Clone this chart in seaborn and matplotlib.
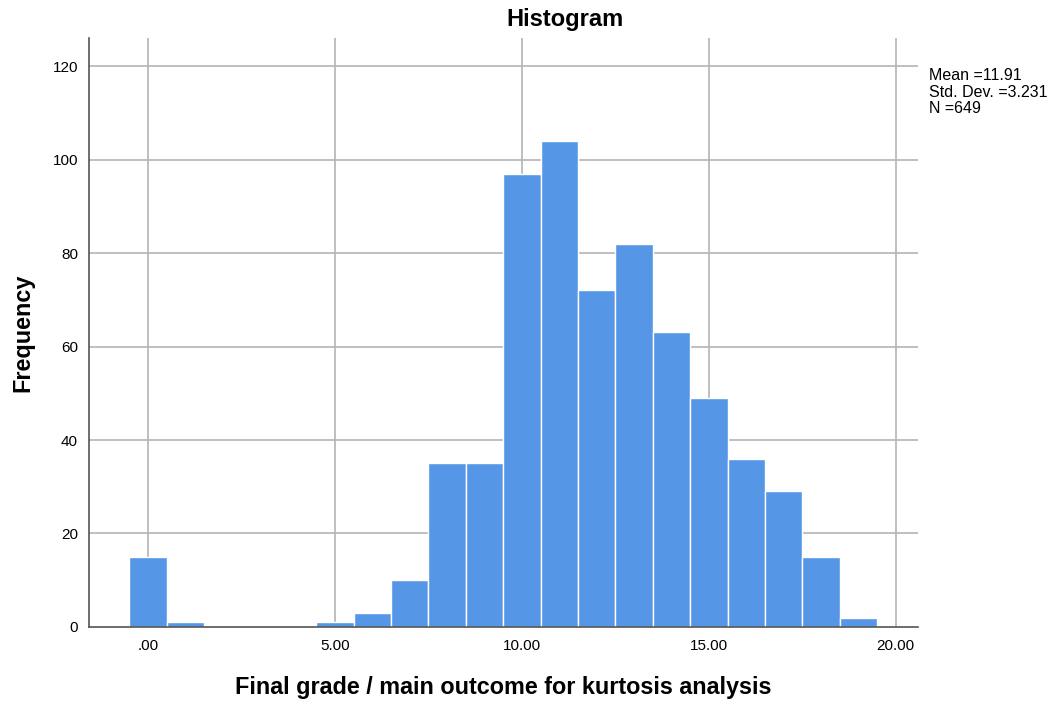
import seaborn as sns
import numpy as np
import pandas as pd
import matplotlib.pyplot as plt

grades = [0, 1, 2, 3, 4, 5, 6, 7, 8, 9, 10, 11, 12, 13, 14, 15, 16, 17, 18, 19]
counts = [15, 1, 0, 0, 0, 1, 3, 10, 35, 35, 97, 104, 72, 82, 63, 49, 36, 29, 15, 2]
xticks = [0, 5, 10, 15, 20]
xticklabels = ['.00', '5.00', '10.00', '15.00', '20.00']
yticks = [0, 20, 40, 60, 80, 100, 120]
stats_text = 'Mean =11.91\nStd. Dev. =3.231\nN =649'

sns.set_style('white')
plt.rcParams['font.family'] = ['Liberation Sans', 'DejaVu Sans']
plt.rcParams['text.color'] = 'black'
plt.rcParams['axes.labelcolor'] = 'black'

data = pd.DataFrame({'grade': grades, 'count': counts})

fig = plt.figure(figsize=(10.55, 7.04), dpi=100)
ax = fig.add_axes([0.0844, 0.1094, 0.7856, 0.8366])

for t in yticks[1:]:
    ax.axhline(t, color='#b4b4b4', lw=1.2, zorder=0)
for t in xticks:
    ax.axvline(t, color='#b4b4b4', lw=1.2, zorder=0)

sns.histplot(data=data, x='grade', weights='count', discrete=True, ax=ax,
             color='#5596e6', alpha=1, edgecolor='white', linewidth=1, zorder=2)

ax.set_xlim(-1.58, 20.59)
ax.set_ylim(0, 126)
ax.set_xticks(xticks)
ax.set_xticklabels(xticklabels)
ax.set_yticks(yticks)
ax.tick_params(labelsize=11, length=0, colors='black')
ax.tick_params(axis='x', pad=9)
ax.tick_params(axis='y', pad=8)
for s in ['top', 'right']:
    ax.spines[s].set_visible(False)
for s in ['left', 'bottom']:
    ax.spines[s].set_color('#555555')
    ax.spines[s].set_linewidth(1.2)

ax.set_xlabel('Final grade / main outcome for kurtosis analysis', fontsize=16.8, fontweight='bold', labelpad=16)
ax.set_ylabel('Frequency', fontsize=16.8, fontweight='bold', labelpad=13)
fig.text(0.5355, 0.973, 'Histogram', ha='center', va='center', fontsize=17, fontweight='bold')
fig.text(0.881, 0.903, stats_text, ha='left', va='top', fontsize=11.5, linespacing=1.12)

plt.savefig('out.png', dpi=100)
